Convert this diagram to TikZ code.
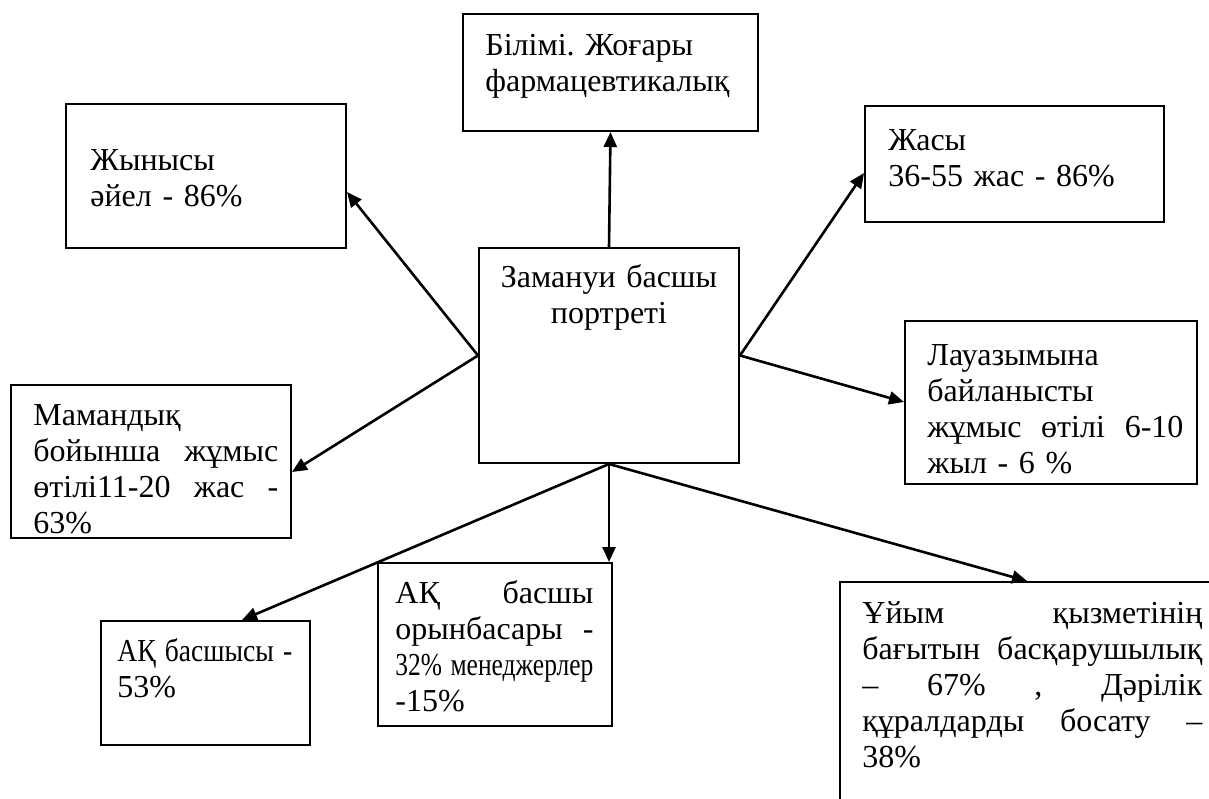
\documentclass[tikz,border=0pt]{standalone}
\usepackage{fontspec}
\usepackage{graphicx}
\setmainfont{Liberation Serif}
\usetikzlibrary{arrows.meta,fit}
\newsavebox\jlbox
\newcommand\jl[2]{\sbox\jlbox{#2}\ifdim\wd\jlbox>#1\relax\resizebox{#1}{\height}{#2}\else\makebox[#1][s]{\spaceskip=0.25em plus 1fill\relax #2}\fi}
\begin{document}
\begin{tikzpicture}[x=0.5pt,y=-0.5pt,
  box/.style={draw, line width=1pt, inner sep=0pt},
  txt/.style={inner sep=0pt, anchor=base west, align=left, font=\fontsize{16}{18}\selectfont},
  ctxt/.style={inner sep=0pt, anchor=base, align=center, font=\fontsize{16}{18}\selectfont},
  arr/.style={line width=1.3pt, -{Triangle[length=7.5pt,width=6.5pt]}}]
\useasboundingbox (0,0) rectangle (1209,798);
\clip (0,0) rectangle (1209,798);
% boxes
\node[box, fit={(463,14) (758,131)}] (bil) {};
\node[box, fit={(66,104) (346,248)}] (zhyn) {};
\node[box, fit={(479,248) (739,463)}] (c) {};
\node[box, fit={(865,106) (1164,222)}] (zhas) {};
\node[box, fit={(905,321) (1197,484)}] (lau) {};
\node[box, fit={(11,385) (291,538)}] (mam) {};
\node[box, fit={(101,621) (310,745)}] (akb) {};
\node[box, fit={(378,563) (612,726)}] (orn) {};
\node[box, fit={(840,582) (1216,812)}] (uy) {};
% texts
\node[txt, text width=140pt] (bilt) at (485,55) {Білімі.\ Жоғары\\фармацевтикалық};
\node[txt, text width=125pt] (zhynt) at (90,170) {Жынысы\\әйел - 86\%};
\node[txt, text width=135pt] (zhast) at (888,150) {Жасы\\36-55 жас - 86\%};
\node[ctxt, text width=125pt] (ct) at (609,287) {Замануи басшы\\портреті};
\node[txt, text width=128pt] (laut) at (927,365) {Лауазымына\\байланысты\\\jl{128pt}{жұмыс өтілі 6-10}\\жыл - 6 \%};
\node[txt, text width=122.5pt] (mamt) at (33,425) {Мамандық\\\jl{122.5pt}{бойынша жұмыс}\\\jl{122.5pt}{өтілі11-20 жас -}\\63\%};
\node[txt, text width=87.5pt] (akbt) at (117,661) {\jl{87.5pt}{АҚ басшысы -}\\53\%};
\node[txt, text width=99pt] (ornt) at (395,603) {\jl{99pt}{АҚ басшы}\\\jl{99pt}{орынбасары -}\\\jl{99pt}{32\% менеджерлер}\\-15\%};
\node[txt, text width=170pt] (uyt) at (862,623) {\jl{170pt}{Ұйым қызметінің}\\\jl{170pt}{бағытын басқарушылық}\\\jl{170pt}{– 67\% , Дәрілік}\\\jl{170pt}{құралдарды босату –}\\38\%};
% connectors
\draw[arr] (c.north) -- (bil.south);
\draw[arr] (c.west) -- (zhyn.east |- 0,192);
\draw[arr] (c.west) -- (mam.east |- 0,472);
\draw[arr] (c.east) -- (zhas.west |- 0,173);
\draw[arr] (c.east) -- (lau.west |- 0,402);
\draw[arr] (c.south) -- (akb.north -| 242,0);
\draw[arr] (c.south) -- (orn.north -| c.south);
\draw[arr] (c.south) -- (uy.north -| 1027,0);
\end{tikzpicture}
\end{document}
